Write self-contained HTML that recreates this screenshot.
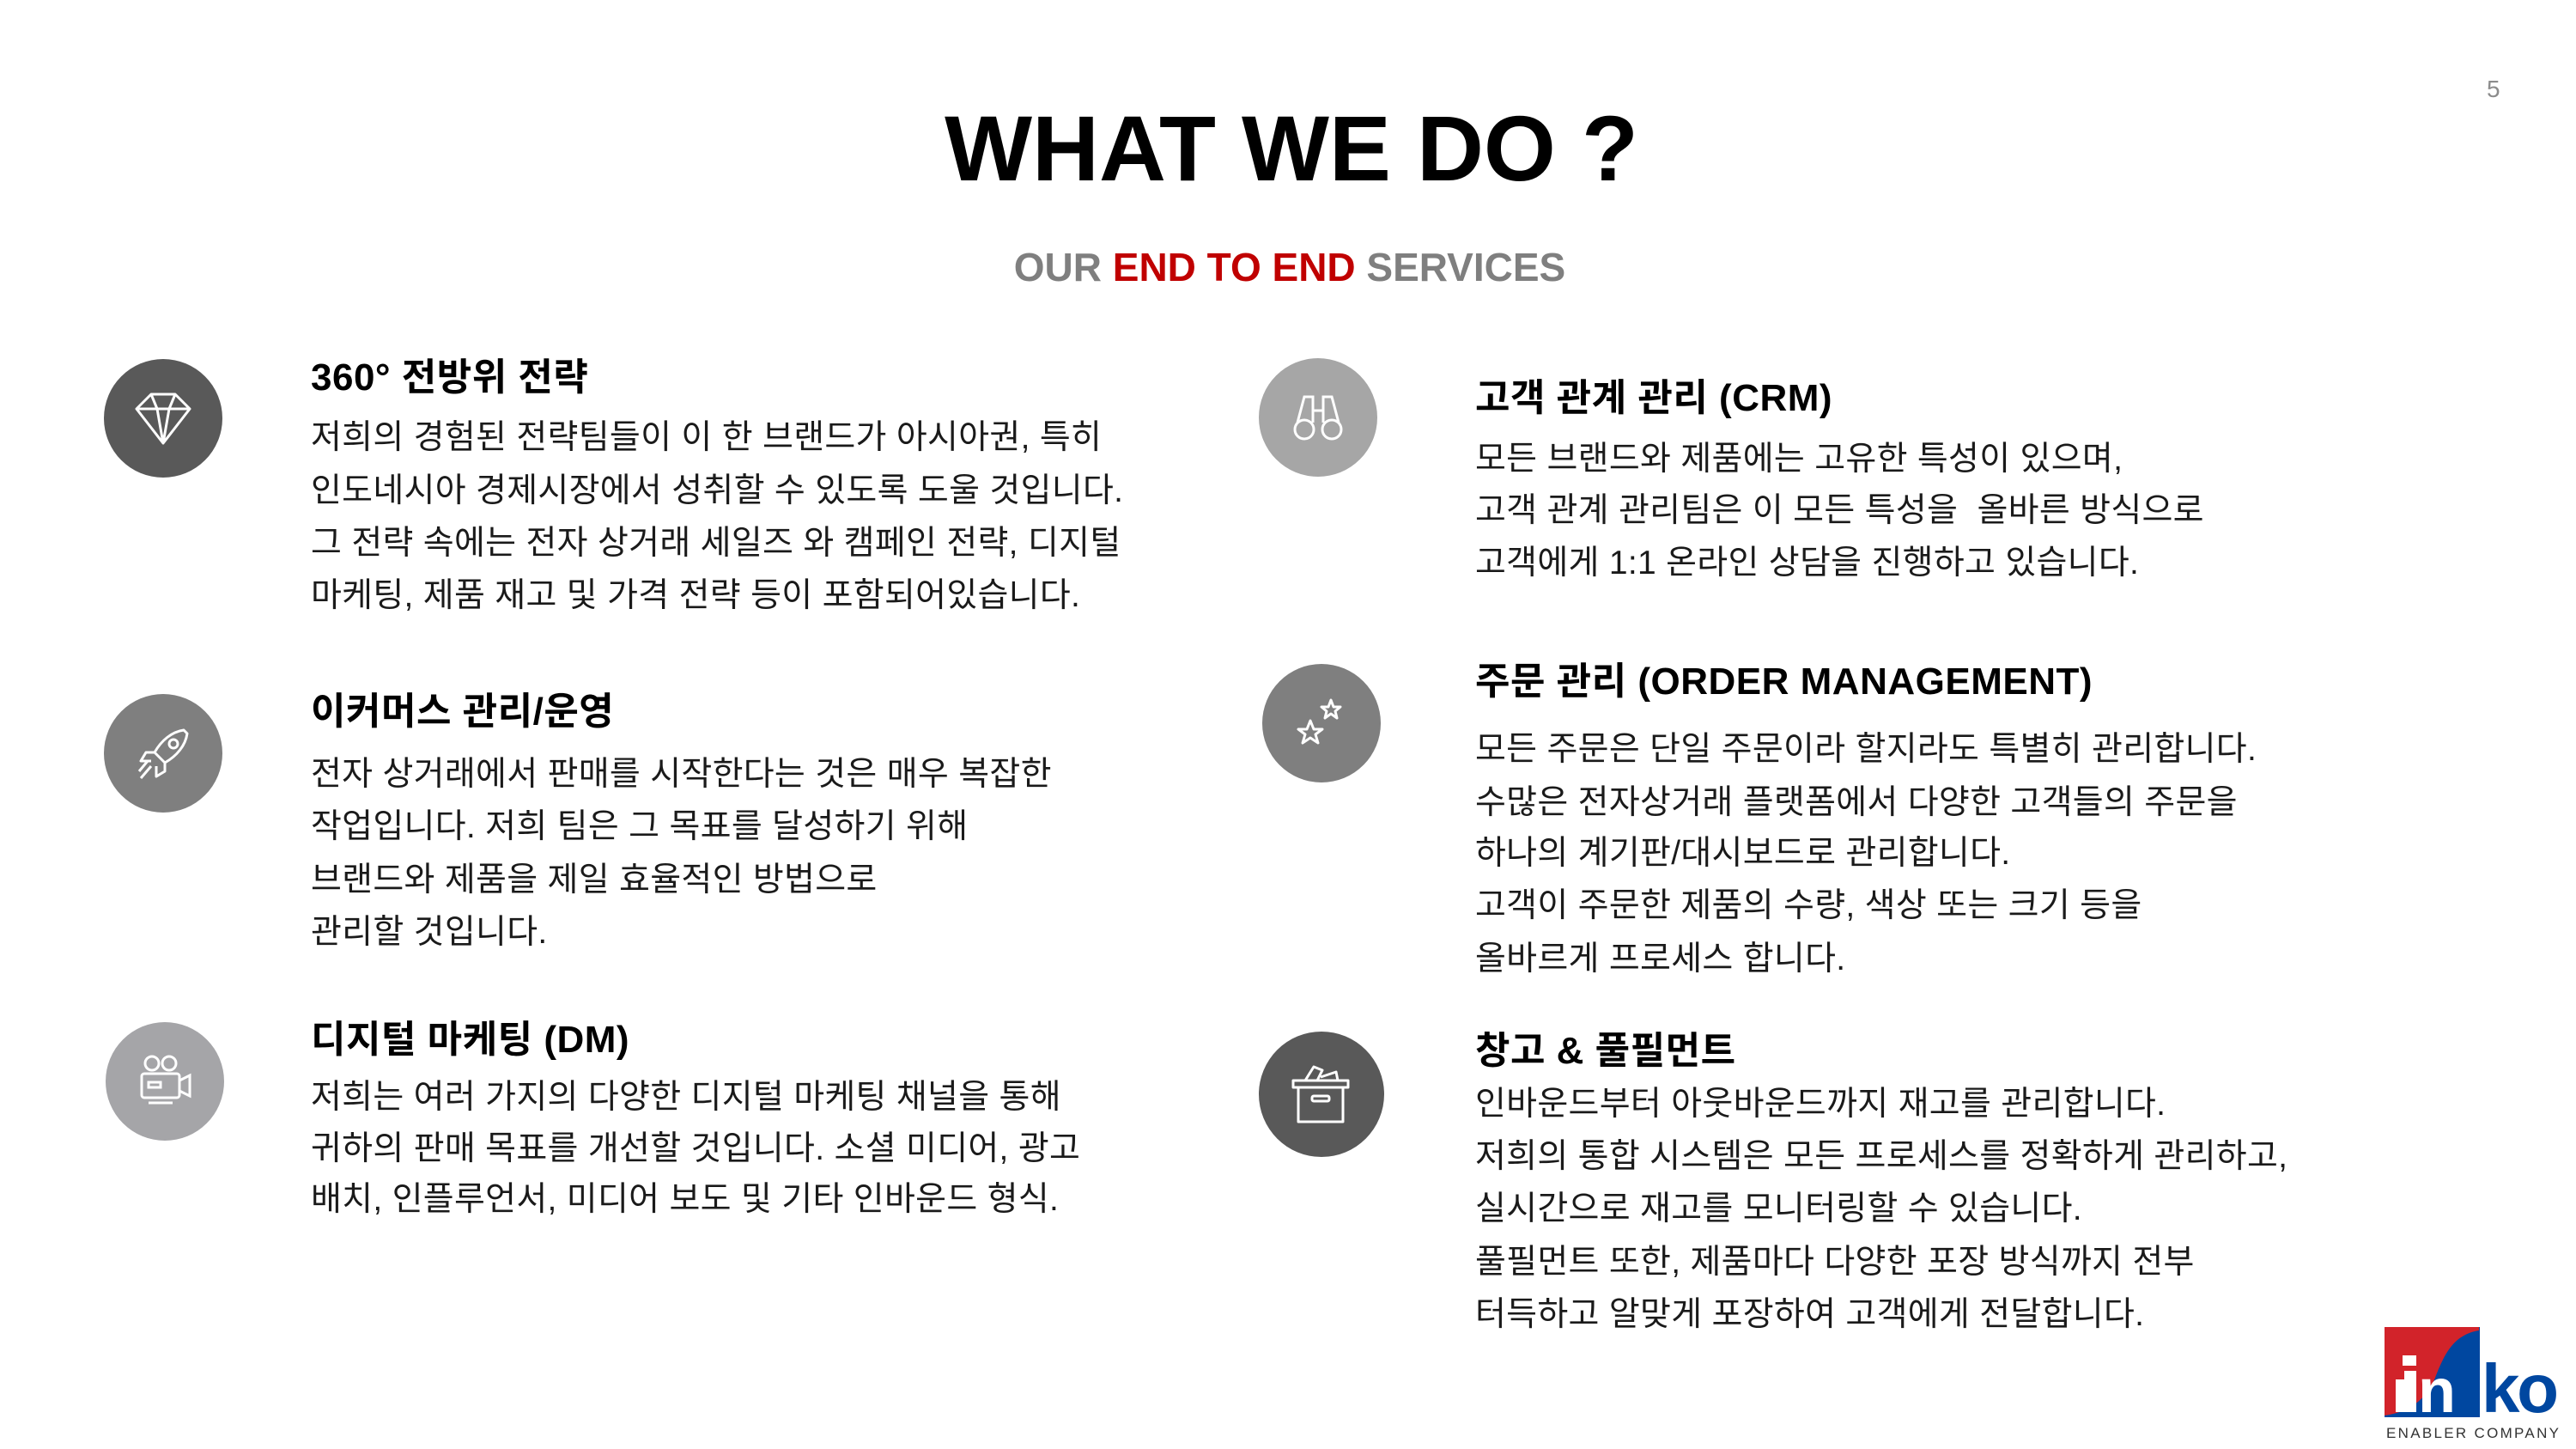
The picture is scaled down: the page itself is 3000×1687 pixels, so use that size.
<!DOCTYPE html>
<html><head><meta charset="utf-8">
<style>
html,body{margin:0;padding:0;background:#fff}
body{width:3000px;height:1687px;position:relative;overflow:hidden;font-family:"Liberation Sans","Noto Sans CJK KR",sans-serif}
.t{position:absolute;white-space:nowrap;line-height:60px;height:60px;color:#1a1a1a;font-size:39px;letter-spacing:0.3px}
.h{font-weight:bold;font-size:44px;color:#000;letter-spacing:0.5px}
.c{position:absolute;border-radius:50%}
svg{position:absolute}
</style></head><body>
<div style="position:absolute;left:4px;width:3000px;top:108px;text-align:center;font-weight:bold;font-size:108px;line-height:130px;color:#000">WHAT WE DO ?</div>
<div style="position:absolute;left:2px;width:3000px;top:283px;text-align:center;font-weight:bold;font-size:46px;line-height:56px;color:#7f7f7f">OUR <span style="color:#c00000">END TO END</span> SERVICES</div>
<div style="position:absolute;left:2896px;top:88px;font-size:28px;color:#8c8c8c">5</div>

<div class="c" style="left:121px;top:418px;width:138px;height:138px;background:#595959"></div>
<div class="c" style="left:121px;top:808px;width:138px;height:138px;background:#7f7f7f"></div>
<div class="c" style="left:123px;top:1190px;width:138px;height:138px;background:#a5a5a8"></div>
<div class="c" style="left:1466px;top:417px;width:138px;height:138px;background:#a6a6a6"></div>
<div class="c" style="left:1470px;top:773px;width:138px;height:138px;background:#7f7f7f"></div>
<div class="c" style="left:1466px;top:1201px;width:146px;height:146px;background:#595959"></div>

<svg style="left:150px;top:447px" width="80" height="80" viewBox="0 0 80 80" fill="none" stroke="#fff" stroke-width="3" stroke-linejoin="round">
<path d="M9 29 L26 12 H54 L71 29 L40 69 Z M9 29 H71 M26 12 L33 29 L40 69 L47 29 L54 12"/></svg>
<svg style="left:152px;top:840px" width="76" height="76" viewBox="0 0 76 76" fill="none" stroke="#fff" stroke-width="3" stroke-linejoin="round">
<path d="M62 10 C48 12 36 22 28 36 L40 48 C54 40 64 28 66 14 Z M28 36 L18 36 L12 46 L24 46 M40 48 L40 58 L30 64 L30 52 M24 52 L12 66 M20 46 L10 58"/><circle cx="50" cy="26" r="5"/></svg>
<svg style="left:153px;top:1222px" width="76" height="76" viewBox="0 0 76 76" fill="none" stroke="#fff" stroke-width="3">
<circle cx="24" cy="16" r="8"/><circle cx="44" cy="16" r="8"/><rect x="12" y="28" width="44" height="28" rx="3"/><path d="M56 36 L68 30 V54 L56 48 M20 62 H48"/><rect x="20" y="38" width="14" height="6"/></svg>
<svg style="left:1497px;top:448px" width="76" height="76" viewBox="0 0 76 76" fill="none" stroke="#fff" stroke-width="3">
<circle cx="22" cy="52" r="11"/><circle cx="54" cy="52" r="11"/><path d="M14 44 L22 14 H32 V44 M62 44 L54 14 H44 V44 M32 30 H44"/></svg>
<svg style="left:1500px;top:803px" width="78" height="78" viewBox="0 0 78 78" fill="none" stroke="#fff" stroke-width="3" stroke-linejoin="round">
<path d="M26 36 L30 46 L40 46 L32 52 L35 62 L26 56 L17 62 L20 52 L12 46 L22 46 Z"/><path d="M50 12 L53 20 L61 20 L55 25 L57 33 L50 28 L43 33 L45 25 L39 20 L47 20 Z"/></svg>
<svg style="left:1500px;top:1236px" width="76" height="76" viewBox="0 0 76 76" fill="none" stroke="#fff" stroke-width="3" stroke-linejoin="round">
<rect x="6" y="22" width="64" height="8"/><rect x="12" y="30" width="52" height="40"/><rect x="28" y="40" width="20" height="6" rx="2"/><path d="M20 22 L30 6 L40 10 L34 22 M38 18 L56 12 L58 22"/></svg>

<div class="t h" style="left:362px;top:410px">360° 전방위 전략</div>
<div class="t" style="left:362px;top:480px">저희의 경험된 전략팀들이 이 한 브랜드가 아시아권, 특히</div>
<div class="t" style="left:362px;top:542px">인도네시아 경제시장에서 성취할 수 있도록 도울 것입니다.</div>
<div class="t" style="left:362px;top:603px">그 전략 속에는 전자 상거래 세일즈 와 캠페인 전략, 디지털</div>
<div class="t" style="left:362px;top:664px">마케팅, 제품 재고 및 가격 전략 등이 포함되어있습니다.</div>

<div class="t h" style="left:362px;top:799px">이커머스 관리/운영</div>
<div class="t" style="left:362px;top:872px">전자 상거래에서 판매를 시작한다는 것은 매우 복잡한</div>
<div class="t" style="left:362px;top:933px">작업입니다. 저희 팀은 그 목표를 달성하기 위해</div>
<div class="t" style="left:362px;top:995px">브랜드와 제품을 제일 효율적인 방법으로</div>
<div class="t" style="left:362px;top:1056px">관리할 것입니다.</div>

<div class="t h" style="left:362px;top:1181px">디지털 마케팅 (DM)</div>
<div class="t" style="left:362px;top:1248px">저희는 여러 가지의 다양한 디지털 마케팅 채널을 통해</div>
<div class="t" style="left:362px;top:1308px">귀하의 판매 목표를 개선할 것입니다. 소셜 미디어, 광고</div>
<div class="t" style="left:362px;top:1367px">배치, 인플루언서, 미디어 보도 및 기타 인바운드 형식.</div>

<div class="t h" style="left:1718px;top:434px">고객 관계 관리 (CRM)</div>
<div class="t" style="left:1718px;top:505px">모든 브랜드와 제품에는 고유한 특성이 있으며,</div>
<div class="t" style="left:1718px;top:565px">고객 관계 관리팀은 이 모든 특성을&nbsp; 올바른 방식으로</div>
<div class="t" style="left:1718px;top:626px">고객에게 1:1 온라인 상담을 진행하고 있습니다.</div>

<div class="t h" style="left:1718px;top:764px">주문 관리 (ORDER MANAGEMENT)</div>
<div class="t" style="left:1718px;top:843px">모든 주문은 단일 주문이라 할지라도 특별히 관리합니다.</div>
<div class="t" style="left:1718px;top:905px">수많은 전자상거래 플랫폼에서 다양한 고객들의 주문을</div>
<div class="t" style="left:1718px;top:964px">하나의 계기판/대시보드로 관리합니다.</div>
<div class="t" style="left:1718px;top:1025px">고객이 주문한 제품의 수량, 색상 또는 크기 등을</div>
<div class="t" style="left:1718px;top:1087px">올바르게 프로세스 합니다.</div>

<div class="t h" style="left:1718px;top:1194px">창고 &amp; 풀필먼트</div>
<div class="t" style="left:1718px;top:1256px">인바운드부터 아웃바운드까지 재고를 관리합니다.</div>
<div class="t" style="left:1718px;top:1317px">저희의 통합 시스템은 모든 프로세스를 정확하게 관리하고,</div>
<div class="t" style="left:1718px;top:1378px">실시간으로 재고를 모니터링할 수 있습니다.</div>
<div class="t" style="left:1718px;top:1440px">풀필먼트 또한, 제품마다 다양한 포장 방식까지 전부</div>
<div class="t" style="left:1718px;top:1501px">터득하고 알맞게 포장하여 고객에게 전달합니다.</div>

<svg style="left:2776px;top:1544px" width="224" height="143" viewBox="0 0 224 143">
<rect x="1" y="1" width="111" height="105" fill="#0047a0"/>
<path d="M1 1 H111 V5 C80 10 70 35 60 60 C50 85 30 100 1 104 Z" fill="#d2232a"/>
<rect x="22" y="34" width="16" height="12" fill="#fff"/>
<rect x="14" y="52" width="24" height="48" fill="#fff"/>
<rect x="14" y="52" width="10" height="10" fill="#d2232a"/>
<text x="40" y="100" font-family="Liberation Sans" font-weight="bold" font-size="72" fill="#fff">n</text>
<text x="114" y="100" font-family="Liberation Sans" font-weight="bold" font-size="80" fill="#0047a0" textLength="90">ko</text>
<text x="3" y="130" font-family="Liberation Sans" font-size="17" fill="#333" letter-spacing="2.3">ENABLER COMPANY</text>
</svg>
</body></html>
